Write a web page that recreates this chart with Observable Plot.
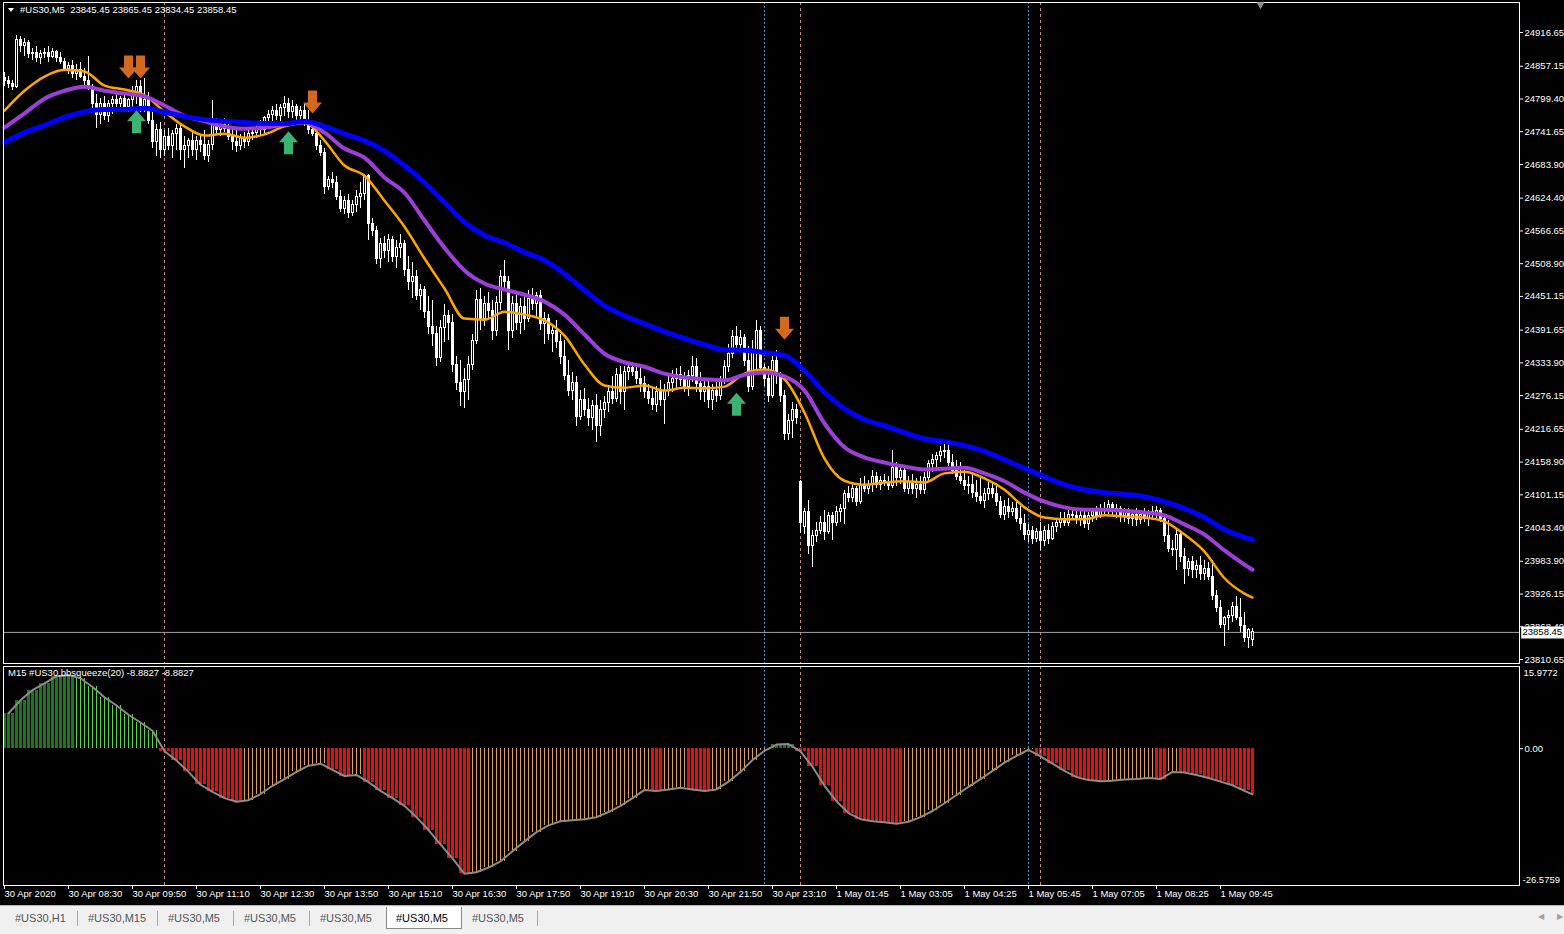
<!DOCTYPE html>
<html><head><meta charset="utf-8">
<script src="https://cdn.jsdelivr.net/npm/d3@7"></script>
<script src="https://cdn.jsdelivr.net/npm/@observablehq/plot@0.6"></script>
<style>
html,body{margin:0;padding:0;background:#000;}
body{width:1564px;height:934px;position:relative;overflow:hidden;font-family:"Liberation Sans",Arial,sans-serif;}
#main{position:absolute;left:0;top:0;}
#ind{position:absolute;left:0;top:664px;}
.lbl{position:absolute;color:#fff;font-size:9.5px;white-space:pre;line-height:12px;}
#tri{position:absolute;left:8px;top:8px;width:0;height:0;border-left:3px solid transparent;border-right:3px solid transparent;border-top:4px solid #fff;}
#tabs{position:absolute;left:0;top:905px;width:1564px;height:29px;background:#f0f0f0;border-top:1px solid #b4b4b4;}
.tab{position:absolute;top:5px;font-size:11px;line-height:14px;color:#555;white-space:pre;}
.sep{position:absolute;top:5px;width:1px;height:15px;background:#a8a8a8;}
#act{position:absolute;left:386px;top:1px;width:74px;height:21px;background:#fff;border:1px solid #8a8a8a;border-top:none;}
.nav{position:absolute;top:6px;font-size:8px;color:#a0a0a0;}
</style>
</head>
<body>
<div id="main"></div>
<div id="ind"></div>
<div id="tri"></div>
<div class="lbl" style="left:20px;top:4px;">#US30,M5  23845.45 23865.45 23834.45 23858.45</div>
<div class="lbl" style="left:8px;top:667px;">M15 #US30,bbsqueeze(20) -8.8827 -8.8827</div>
<div id="tabs">
  <div class="tab" style="left:15px">#US30,H1</div>
  <div class="sep" style="left:77px"></div>
  <div class="tab" style="left:88px">#US30,M15</div>
  <div class="sep" style="left:157px"></div>
  <div class="tab" style="left:168px">#US30,M5</div>
  <div class="sep" style="left:233px"></div>
  <div class="tab" style="left:244px">#US30,M5</div>
  <div class="sep" style="left:309px"></div>
  <div class="tab" style="left:320px">#US30,M5</div>
  <div id="act"><div class="tab" style="left:9px;top:4px;color:#000">#US30,M5</div></div>
  <div class="tab" style="left:472px">#US30,M5</div>
  <div class="sep" style="left:537px"></div>
  <div class="nav" style="left:1538px">&#9664;</div>
  <div class="nav" style="left:1557px">&#9654;</div>
</div>
<script>
// ---------- DATA ----------
const priceTicks = [24916.65,24857.15,24799.40,24741.65,24683.90,24624.40,24566.65,24508.90,24451.15,24391.65,24333.90,24276.15,24216.65,24158.90,24101.15,24043.40,23983.90,23926.15,23868.40,23810.65];
const timeTickBars = [0,16,32,48,64,80,96,112,128,144,160,176,192,208,224,240,256,272,288,304];
const timeLabels = ["30 Apr 2020","30 Apr 08:30","30 Apr 09:50","30 Apr 11:10","30 Apr 12:30","30 Apr 13:50","30 Apr 15:10","30 Apr 16:30","30 Apr 17:50","30 Apr 19:10","30 Apr 20:30","30 Apr 21:50","30 Apr 23:10","1 May 01:45","1 May 03:05","1 May 04:25","1 May 05:45","1 May 07:05","1 May 08:25","1 May 09:45"];

const open = [24836,24832,24825,24821,24903,24892,24899,24878,24881,24871,
24878,24881,24874,24883,24871,24864,24853,24857,24843,24850,
24839,24832,24821,24790,24772,24790,24769,24790,24797,24790,
24800,24786,24797,24804,24821,24783,24797,24761,24723,24744,
24709,24733,24716,24737,24747,24709,24716,24726,24709,24726,
24719,24698,24719,24754,24744,24754,24747,24733,24723,24716,
24730,24723,24737,24740,24747,24744,24765,24772,24779,24769,
24783,24790,24776,24786,24769,24779,24758,24744,24737,24716,
24705,24645,24656,24652,24627,24606,24620,24599,24613,24627,
24631,24663,24578,24567,24518,24543,24532,24550,24521,24536,
24543,24497,24476,24486,24451,24462,24423,24398,24384,24342,
24395,24416,24405,24331,24299,24282,24303,24331,24373,24444,
24412,24437,24426,24391,24440,24486,24476,24391,24437,24405,
24433,24412,24447,24437,24451,24402,24412,24384,24391,24370,
24345,24310,24285,24299,24239,24268,24250,24236,24257,24222,
24250,24264,24282,24271,24313,24282,24317,24324,24317,24306,
24296,24282,24271,24260,24282,24268,24285,24299,24306,24313,
24303,24292,24310,24327,24296,24282,24292,24268,24285,24275,
24303,24327,24349,24380,24366,24377,24338,24292,24352,24391,
24324,24306,24275,24338,24310,24275,24208,24232,24250,24123,
24045,24070,24010,24028,24038,24052,24035,24063,24052,24070,
24077,24102,24095,24112,24088,24119,24112,24119,24133,24119,
24126,24123,24116,24148,24130,24144,24112,24123,24112,24119,
24109,24130,24155,24162,24169,24176,24179,24158,24144,24133,
24126,24116,24119,24105,24098,24091,24102,24112,24102,24088,
24066,24080,24070,24077,24059,24049,24031,24038,24024,24035,
24020,24038,24024,24045,24052,24059,24052,24066,24063,24056,
24063,24049,24063,24070,24063,24077,24073,24084,24070,24077,
24063,24070,24059,24066,24056,24066,24059,24070,24066,24073,
24059,24028,24006,24003,24031,23992,23971,23982,23968,23975,
23961,23971,23957,23922,23901,23872,23883,23887,23904,23883,
23869,23848,23845.45];
const high = [24846,24839,24832,24911,24910,24906,24903,24888,24892,24885,
24888,24892,24888,24885,24881,24871,24864,24867,24860,24864,
24853,24874,24825,24807,24800,24804,24797,24804,24807,24804,
24811,24800,24821,24832,24832,24836,24811,24776,24754,24758,
24744,24747,24744,24754,24754,24733,24730,24740,24733,24737,
24744,24726,24797,24765,24761,24765,24761,24751,24744,24737,
24740,24744,24747,24754,24761,24769,24779,24786,24790,24790,
24804,24800,24797,24790,24786,24790,24779,24761,24751,24726,
24712,24663,24670,24663,24638,24627,24631,24620,24638,24652,
24666,24666,24589,24574,24553,24557,24560,24557,24550,24560,
24550,24521,24511,24497,24472,24469,24451,24444,24398,24409,
24437,24426,24419,24345,24338,24324,24345,24384,24462,24465,
24451,24458,24444,24451,24497,24515,24486,24451,24454,24447,
24451,24462,24465,24458,24462,24423,24419,24398,24409,24384,
24373,24338,24317,24310,24285,24289,24271,24268,24278,24268,
24275,24292,24310,24324,24327,24327,24331,24335,24331,24327,
24310,24296,24289,24292,24303,24296,24310,24320,24324,24327,
24317,24320,24345,24342,24317,24306,24303,24296,24306,24310,
24338,24366,24391,24398,24391,24384,24363,24373,24409,24398,
24331,24327,24345,24356,24317,24285,24243,24264,24260,24126,
24077,24091,24038,24052,24063,24073,24070,24070,24080,24084,
24109,24116,24119,24116,24130,24133,24126,24144,24140,24133,
24137,24133,24179,24158,24151,24148,24133,24137,24130,24133,
24140,24162,24172,24176,24186,24193,24190,24172,24162,24158,
24144,24133,24137,24126,24130,24112,24123,24123,24116,24098,
24091,24095,24088,24088,24080,24066,24049,24045,24042,24052,
24045,24049,24052,24059,24070,24070,24073,24077,24077,24073,
24073,24070,24077,24080,24084,24088,24091,24088,24084,24080,
24077,24077,24073,24077,24073,24077,24073,24080,24080,24077,
24066,24056,24020,24042,24038,24006,23989,23992,23985,23992,
23985,23982,23985,23932,23915,23887,23897,23911,23922,23918,
23894,23865,23865.45];
const low = [24821,24818,24814,24818,24881,24874,24871,24867,24864,24860,
24871,24864,24871,24864,24860,24850,24843,24836,24832,24836,
24821,24814,24776,24747,24754,24761,24758,24772,24783,24776,
24779,24776,24783,24790,24776,24776,24754,24712,24698,24694,
24698,24709,24694,24709,24691,24677,24694,24698,24691,24705,
24691,24687,24709,24737,24733,24740,24726,24709,24705,24709,
24712,24716,24726,24730,24733,24737,24751,24758,24761,24758,
24769,24765,24765,24761,24754,24751,24737,24733,24709,24698,
24631,24638,24641,24620,24599,24596,24589,24592,24599,24606,
24620,24550,24557,24507,24500,24518,24511,24511,24500,24518,
24486,24462,24447,24444,24426,24412,24384,24363,24327,24335,
24370,24373,24317,24285,24257,24253,24268,24320,24366,24391,
24398,24409,24373,24380,24426,24462,24356,24377,24391,24384,
24391,24405,24426,24416,24391,24366,24373,24352,24359,24331,
24303,24275,24268,24222,24232,24239,24222,24215,24193,24204,
24236,24246,24260,24264,24260,24250,24303,24310,24296,24282,
24271,24260,24250,24246,24257,24225,24275,24282,24289,24292,
24282,24275,24299,24282,24268,24264,24253,24250,24264,24268,
24296,24317,24342,24356,24352,24327,24282,24285,24317,24317,
24292,24264,24271,24296,24264,24197,24197,24200,24225,24033,
24031,23996,23973,24017,24031,24020,24031,24020,24045,24052,
24049,24088,24088,24080,24084,24105,24102,24105,24112,24109,
24116,24109,24112,24116,24119,24105,24102,24102,24095,24102,
24102,24123,24140,24148,24158,24165,24151,24137,24126,24119,
24109,24102,24095,24088,24084,24077,24091,24095,24080,24059,
24056,24059,24063,24052,24038,24020,24017,24013,24017,24003,
24010,24013,24020,24035,24042,24045,24045,24056,24049,24045,
24042,24038,24052,24056,24059,24066,24066,24063,24059,24052,
24052,24049,24045,24045,24049,24052,24045,24056,24059,24052,
24017,23999,23992,23968,23982,23943,23957,23954,23954,23950,
23950,23950,23915,23894,23865,23834,23862,23876,23879,23858,
23841,23830,23834.45];
const close = [24832,24825,24821,24903,24892,24899,24878,24881,24871,24878,
24881,24874,24883,24871,24864,24853,24857,24843,24850,24839,
24832,24821,24790,24772,24790,24769,24790,24797,24790,24800,
24786,24797,24804,24821,24783,24797,24761,24723,24744,24709,
24733,24716,24737,24747,24709,24716,24726,24709,24726,24719,
24698,24719,24754,24744,24754,24747,24733,24723,24716,24730,
24723,24737,24740,24747,24744,24765,24772,24779,24769,24783,
24790,24776,24786,24769,24779,24758,24744,24737,24716,24705,
24645,24656,24652,24627,24606,24620,24599,24613,24627,24631,
24663,24578,24567,24518,24543,24532,24550,24521,24536,24543,
24497,24476,24486,24451,24462,24423,24398,24384,24342,24395,
24416,24405,24331,24299,24282,24303,24331,24373,24444,24412,
24437,24426,24391,24440,24486,24476,24391,24437,24405,24433,
24412,24447,24437,24451,24402,24412,24384,24391,24370,24345,
24310,24285,24299,24239,24268,24250,24236,24257,24222,24250,
24264,24282,24271,24313,24282,24317,24324,24317,24306,24296,
24282,24271,24260,24282,24268,24285,24299,24306,24313,24303,
24292,24310,24327,24296,24282,24292,24268,24285,24275,24303,
24327,24349,24380,24366,24377,24338,24292,24352,24391,24324,
24306,24275,24338,24310,24275,24208,24232,24250,24236,24052,
24070,24010,24028,24038,24052,24035,24063,24052,24070,24077,
24102,24095,24112,24088,24119,24112,24119,24133,24119,24126,
24123,24116,24148,24130,24144,24112,24123,24112,24119,24109,
24130,24155,24162,24169,24176,24179,24158,24144,24133,24126,
24116,24119,24105,24098,24091,24102,24112,24102,24088,24066,
24080,24070,24077,24059,24049,24031,24038,24024,24035,24020,
24038,24024,24045,24052,24059,24052,24066,24063,24056,24063,
24049,24063,24070,24063,24077,24073,24084,24070,24077,24063,
24070,24059,24066,24056,24066,24059,24070,24066,24073,24059,
24028,24006,24003,24031,23992,23971,23982,23968,23975,23961,
23971,23957,23922,23901,23872,23883,23887,23904,23883,23869,
23848,23862,23858.45];

// moving averages sampled at these bar indices
const maBars = [0,5,10,15,20,25,30,35,40,45,50,55,60,65,70,75,80,85,90,95,100,105,110,115,120,125,130,135,140,145,150,155,160,165,170,175,180,185,190,195,200,205,210,215,220,225,230,235,240,245,250,255,260,265,270,275,280,285,290,295,300,305,310,312];
const maFast = [24779,24814,24839,24851,24848,24823,24816,24806,24777,24751,24735,24738,24731,24737,24751,24758,24726,24682,24664,24620,24574,24518,24465,24412,24410,24424,24419,24409,24382,24331,24294,24290,24294,24285,24290,24289,24292,24315,24322,24305,24246,24165,24126,24119,24123,24125,24123,24139,24142,24130,24110,24079,24061,24058,24058,24065,24063,24061,24054,24031,24001,23954,23927,23920];
const maMid = [24749,24774,24800,24814,24821,24814,24809,24804,24788,24770,24760,24751,24747,24749,24754,24758,24740,24712,24696,24661,24634,24585,24537,24497,24474,24463,24454,24442,24419,24384,24350,24335,24327,24315,24308,24305,24303,24313,24317,24310,24285,24227,24185,24167,24158,24151,24146,24147,24149,24139,24125,24105,24089,24079,24075,24075,24073,24070,24065,24049,24031,24003,23978,23969];
const maSlow = [24723,24740,24753,24767,24777,24781,24781,24783,24776,24769,24763,24760,24758,24756,24756,24760,24751,24738,24726,24708,24682,24652,24617,24582,24559,24546,24529,24515,24491,24462,24435,24417,24403,24389,24377,24366,24357,24356,24352,24347,24320,24282,24253,24234,24223,24211,24200,24195,24188,24178,24163,24148,24133,24119,24110,24105,24102,24098,24089,24077,24061,24040,24026,24022];

const sellBars = [31,34,77,195];
const sellPrices = [24855,24855,24793,24394];
const buyBars = [33,71,183];
const buyPrices = [24760,24723,24262];

const sepPink = [40,199,259];
const sepBlue = [190,256];
const lastPrice = 23858.45;

// bbsqueeze(20) from M15: one value per M15 bar = 3 M5 bars
const squeeze = [6.9,9.4,11.4,12.7,14.1,14.3,13.7,12.0,10.0,8.4,
6.6,5.1,3.5,-0.5,-2.3,-4.5,-7.0,-8.4,-9.6,-10.3,
-10.0,-8.8,-7.2,-5.9,-4.5,-3.3,-2.9,-4.1,-5.3,-5.1,
-6.5,-8.2,-9.6,-11.1,-13.3,-15.8,-18.6,-21.3,-24.3,-24.0,
-23.1,-21.9,-19.9,-18.0,-16.2,-14.9,-14.1,-13.9,-13.7,-13.3,
-12.3,-11.1,-9.6,-8.0,-8.2,-7.9,-7.6,-7.9,-8.2,-7.9,
-6.4,-4.5,-2.2,-0.4,0.8,0.9,-0.5,-3.5,-7.2,-10.2,
-12.5,-13.7,-14.1,-14.3,-14.6,-14.2,-13.3,-12.1,-10.6,-9.0,
-7.4,-5.9,-4.3,-2.7,-1.4,-0.2,-1.5,-2.9,-4.3,-5.5,
-6.1,-6.3,-6.2,-6.0,-5.9,-5.7,-5.9,-4.5,-4.6,-5.1,
-5.7,-6.4,-7.1,-8.2,-8.8827];
const sqMin = -26.5759, sqMax = 15.9772;

// ---------- BUILD ----------
const candles = close.map((c, i) => ({i, o: open[i], h: high[i], l: low[i], c}));
const maRows = maBars.map((b, k) => ({b, f: maFast[k], m: maMid[k], s: maSlow[k]}));
const sells = sellBars.map((b, k) => ({b, p: sellPrices[k]}));
const buys = buyBars.map((b, k) => ({b, p: buyPrices[k]}));

const hist = candles.map(d => {
  const g = Math.floor(d.i / 3);
  const v = squeeze[g];
  const pv = g > 0 ? squeeze[g - 1] : -Infinity;
  const kind = v >= 0 ? (v >= pv ? "gUp" : "gDn") : (v < pv ? "rDn" : "rUp");
  return {i: d.i, v, kind};
});
const sqLine = squeeze.map((v, g) => ({b: Math.min(3 * g + 1, close.length - 1), v}));

const arrow = dir => ({
  draw(ctx) {
    const s = dir;
    ctx.moveTo(-4.5, -12 * s); ctx.lineTo(4.5, -12 * s); ctx.lineTo(4.5, 0);
    ctx.lineTo(9.5, 0); ctx.lineTo(0, 11 * s); ctx.lineTo(-9.5, 0); ctx.lineTo(-4.5, 0);
    ctx.closePath();
  }
});

const baseStyle = {background: "#000", color: "#fff", fontFamily: "'Liberation Sans', Arial, sans-serif", fontSize: "9.5px", overflow: "visible"};
const xScale = {domain: [-0.25, 378.75], axis: null, label: null};
const pinkStyle = {stroke: "#c98a8a", strokeDasharray: "3,3"};
const blueStyle = {stroke: "#3d8fd0", strokeDasharray: "2,2"};

const mainPlot = Plot.plot({
  width: 1564, height: 665,
  marginTop: 2, marginBottom: 2, marginLeft: 3, marginRight: 45,
  style: baseStyle,
  x: xScale,
  y: {domain: [23803.6, 24969.6], label: null},
  marks: [
    Plot.ruleY([lastPrice], {stroke: "#a5a5a5"}),
    Plot.ruleX(sepPink, pinkStyle),
    Plot.ruleX(sepBlue, blueStyle),
    Plot.ruleX(candles, {x: "i", y1: "l", y2: "h", stroke: "#fff", strokeWidth: 1, shapeRendering: "crispEdges"}),
    Plot.rect(candles, {x1: d => d.i - 0.25, x2: d => d.i + 0.25, y1: "o", y2: "c",
      fill: d => d.c > d.o ? "#000" : "#fff", stroke: "#fff", strokeWidth: 1, shapeRendering: "crispEdges"}),
    Plot.line(maRows, {x: "b", y: "f", stroke: "#ffa500", strokeWidth: 2.5, curve: "monotone-x"}),
    Plot.line(maRows, {x: "b", y: "m", stroke: "#9b3fd8", strokeWidth: 4, curve: "monotone-x"}),
    Plot.line(maRows, {x: "b", y: "s", stroke: "#0000ff", strokeWidth: 5, curve: "monotone-x"}),
    Plot.dot(sells, {x: "b", y: "p", symbol: arrow(1), fill: "#d2691e", stroke: "none", r: 5}),
    Plot.dot(buys, {x: "b", y: "p", symbol: arrow(-1), fill: "#3cb371", stroke: "none", r: 5}),
    Plot.frame({stroke: "#fff"}),
    Plot.axisY(priceTicks, {anchor: "right", tickSize: 3, tickPadding: 2, tickFormat: d => d.toFixed(2), label: null}),
    Plot.ruleY([lastPrice], {x1: 379.3, x2: 395, stroke: "#fff", strokeWidth: 12}),
    Plot.text([lastPrice], {x: () => 379.5, y: d => d, text: d => d.toFixed(2), textAnchor: "start", fill: "#000"}),
    Plot.dot([314], {x: d => d, frameAnchor: "top", symbol: "triangle", rotate: 180, r: 3, fill: "#8a8a8a", stroke: "none", dy: 2})
  ]
});
document.getElementById("main").appendChild(mainPlot);

const byKind = k => hist.filter(d => d.kind === k);
const indPlot = Plot.plot({
  width: 1564, height: 240,
  marginTop: 2, marginBottom: 19, marginLeft: 3, marginRight: 45,
  style: baseStyle,
  x: xScale,
  y: {domain: [sqMin, sqMax], label: null},
  marks: [
    Plot.ruleX(byKind("gUp"), {x: "i", y1: 0, y2: "v", stroke: "#167d16", strokeWidth: 3, shapeRendering: "crispEdges"}),
    Plot.ruleX(byKind("gDn"), {x: "i", y1: 0, y2: "v", stroke: "#5ad24a", strokeWidth: 1, shapeRendering: "crispEdges"}),
    Plot.ruleX(byKind("rDn"), {x: "i", y1: 0, y2: "v", stroke: "#e41010", strokeWidth: 3, shapeRendering: "crispEdges"}),
    Plot.ruleX(byKind("rUp"), {x: "i", y1: 0, y2: "v", stroke: "#d8a060", strokeWidth: 1, shapeRendering: "crispEdges"}),
    Plot.ruleX(sepPink, pinkStyle),
    Plot.ruleX(sepBlue, blueStyle),
    Plot.line(sqLine, {x: "b", y: "v", stroke: "#8c8c8c", strokeWidth: 2}),
    Plot.frame({stroke: "#fff"}),
    Plot.axisY([0], {anchor: "right", tickSize: 3, tickPadding: 2, tickFormat: () => "0.00", label: null}),
    Plot.text([sqMax], {y: d => d, frameAnchor: "right", dx: 4, dy: 6, textAnchor: "start", text: d => String(d), fill: "#fff"}),
    Plot.text([sqMin], {y: d => d, frameAnchor: "right", dx: 3, dy: -6, textAnchor: "start", text: d => String(d), fill: "#fff"}),
    Plot.axisX(timeTickBars, {anchor: "bottom", tickSize: 4, tickPadding: 1, textAnchor: "start",
      tickFormat: d => timeLabels[timeTickBars.indexOf(d)], label: null})
  ]
});
document.getElementById("ind").appendChild(indPlot);
</script>
</body></html>
